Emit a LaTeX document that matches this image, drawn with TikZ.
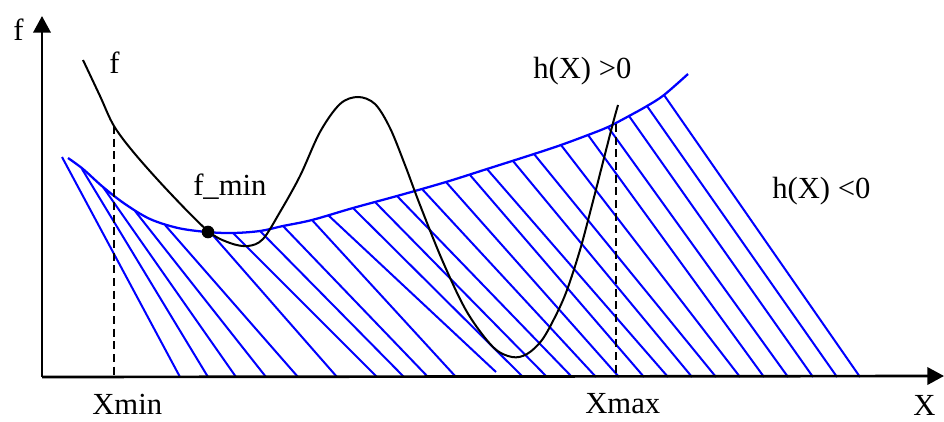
\documentclass[tikz,border=0pt]{standalone}
\usepackage{fontspec}
\setmainfont{Liberation Serif}
\usetikzlibrary{arrows.meta}
\tikzset{
  lbl/.style={inner sep=0pt, font=\fontsize{23}{27}\selectfont, anchor=base west},
  axisline/.style={line width=2pt, -{Triangle[length=12.5pt,width=13pt]}},
  hatch/.style={blue, line width=1.5pt},
  boundary/.style={blue, line width=1.7pt},
  fcurve/.style={black, line width=1.5pt},
  guide/.style={black, line width=1.5pt, dash pattern=on 6pt off 3.5pt}
}
\begin{document}
\begin{tikzpicture}[x=0.75pt,y=-0.75pt]
\useasboundingbox (0,0) rectangle (944,421);
% hatch lines
\foreach \tx/\ty/\bx/\by in {62/157/180/377, 82/169/208/377, 103/187/236/377, 135/211/266/377,
  165/225/298/377, 210/232/337/377, 233/233/377/377, 260/231/404/377, 283/226/428/377,
  312/220/456/377, 328/215/496/372, 353/208/523/377, 375/202/547/377, 397/196/572/377,
  422/189/596/377, 446/182/619/377, 470/175/644/377, 487/169/668/377, 513/161/692/377,
  534/154/716/377, 561/145/740/377, 588/135/764/377, 608/127/788/377, 629/116/813/377,
  647/106/837/377, 664/95/860/377}
  \draw[hatch] (\tx,\ty) -- (\bx,\by);
% boundary h(X)=0
\draw[boundary] plot[smooth, tension=0.55] coordinates {(68,158) (83,169) (103,187) (125,204) (150,219)
  (178,228) (207,232) (233,233) (260,231) (283,226) (312,220) (353,208) (397,196) (446,182)
  (487,169) (534,154) (561,145) (588,135) (608,127) (629,116) (647,106) (664,95) (688,74)};
% dashed guides
\coordinate (xminTop) at (114,126);
\coordinate (xminBot) at (114,377);
\coordinate (xmaxTop) at (616,124);
\coordinate (xmaxBot) at (616,377);
\draw[guide] (xminTop) -- (xminBot);
\draw[guide] (xmaxTop) -- (xmaxBot);
% function f
\draw[fcurve] plot[smooth, tension=0.55] coordinates {(83,60) (100,96) (114,126) (135,154) (170,193)
  (208,231) (230,243) (248,246) (263,239) (280,212) (300,176) (320,132) (340,104) (358,97)
  (375,104) (390,128) (405,165) (420,205) (443,262) (467,312) (493,347) (512,357) (527,354)
  (542,340) (556,315) (567,290) (580,250) (592,205) (603,162) (613,123) (618,105)};
% minimum point
\node[circle, fill=black, inner sep=0pt, minimum size=9.5pt] (fminpt) at (208,232) {};
% axes
\coordinate (origin) at (42,377);
\coordinate (ytip) at (42,16);
\coordinate (xtip) at (944,376);
\draw[axisline] (origin) -- (ytip);
\draw[axisline] (origin) -- (xtip);
% labels
\node[lbl] (fy) at (13,40) {f};
\node[lbl] (fc) at (109,73) {f};
\node[lbl] (fmin) at (193,195) {f\_min};
\node[lbl] (hpos) at (533,78) {h(X) >0};
\node[lbl] (hneg) at (772,198) {h(X) <0};
\node[lbl] (xmin) at (92,414) {Xmin};
\node[lbl] (xmax) at (585,413) {Xmax};
\node[lbl] (xl) at (913,415) {X};
\end{tikzpicture}
\end{document}
